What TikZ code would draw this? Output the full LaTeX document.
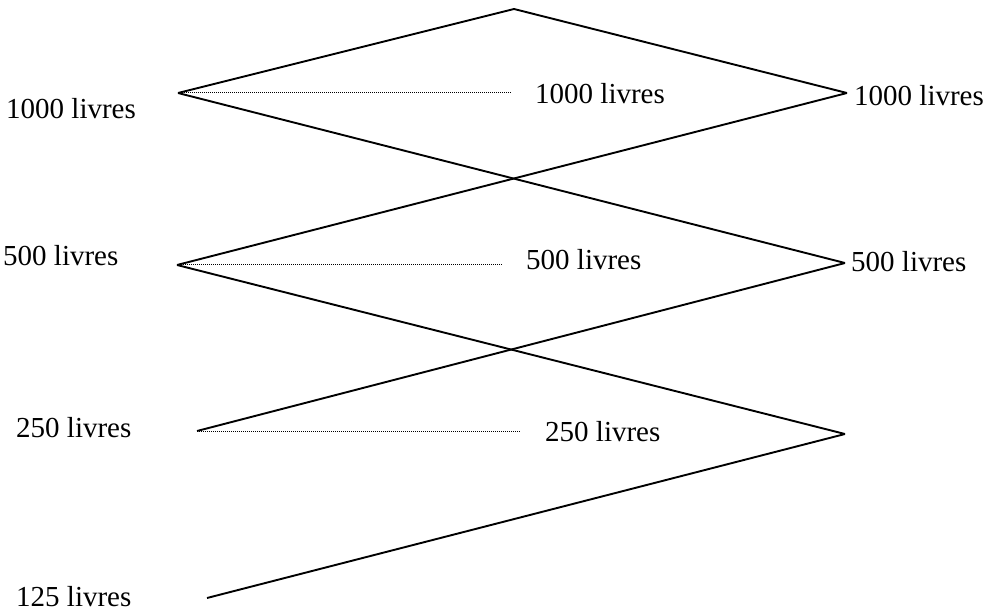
\documentclass[tikz,border=0pt]{standalone}
\usepackage{fontspec}
\setmainfont{Liberation Serif}
\usetikzlibrary{positioning}

\begin{document}
\begin{tikzpicture}[x=1pt, y=-1pt,
    every node/.style={inner sep=0pt, anchor=base west, font=\fontsize{29}{31}\selectfont},
    link/.style={line width=1.9pt, line join=miter},
    guide/.style={line width=1pt, dash pattern=on 1pt off 1pt, shorten >=24pt}]
    \useasboundingbox (0,0) rectangle (985,612);

    % Points
    \coordinate (top) at (514,9);
    \coordinate (l1000) at (178,93);
    \coordinate (l500) at (177,265);
    \coordinate (l250) at (197,431);
    \coordinate (l125) at (207,598);
    \coordinate (r1000) at (847,93);
    \coordinate (r500) at (845,263);
    \coordinate (r250) at (845,434);

    % Nodes
    \node (a1000) at (6,119) {1000 livres};
    \node (a500) at (3,266) {500 livres};
    \node (a250) at (16,437) {250 livres};
    \node (a125) at (16,606) {125 livres};
    \node (m1000) at (535,104) {1000 livres};
    \node (m500) at (526,270) {500 livres};
    \node (m250) at (545,441) {250 livres};
    \node (b1000) at (854,106) {1000 livres};
    \node (b500) at (851,272) {500 livres};

    % Arrows
    \draw[link] (l1000) -- (top) -- (r1000);
    \draw[link] (l1000) -- (r500);
    \draw[link] (r1000) -- (l500);
    \draw[link] (l500) -- (r250);
    \draw[link] (r500) -- (l250);
    \draw[link] (r250) -- (l125);

    \draw[guide] (l1000) -- (l1000 -| m1000.west);
    \draw[guide] (l500) -- (l500 -| m500.west);
    \draw[guide] (l250) -- (l250 -| m250.west);
\end{tikzpicture}
\end{document}
